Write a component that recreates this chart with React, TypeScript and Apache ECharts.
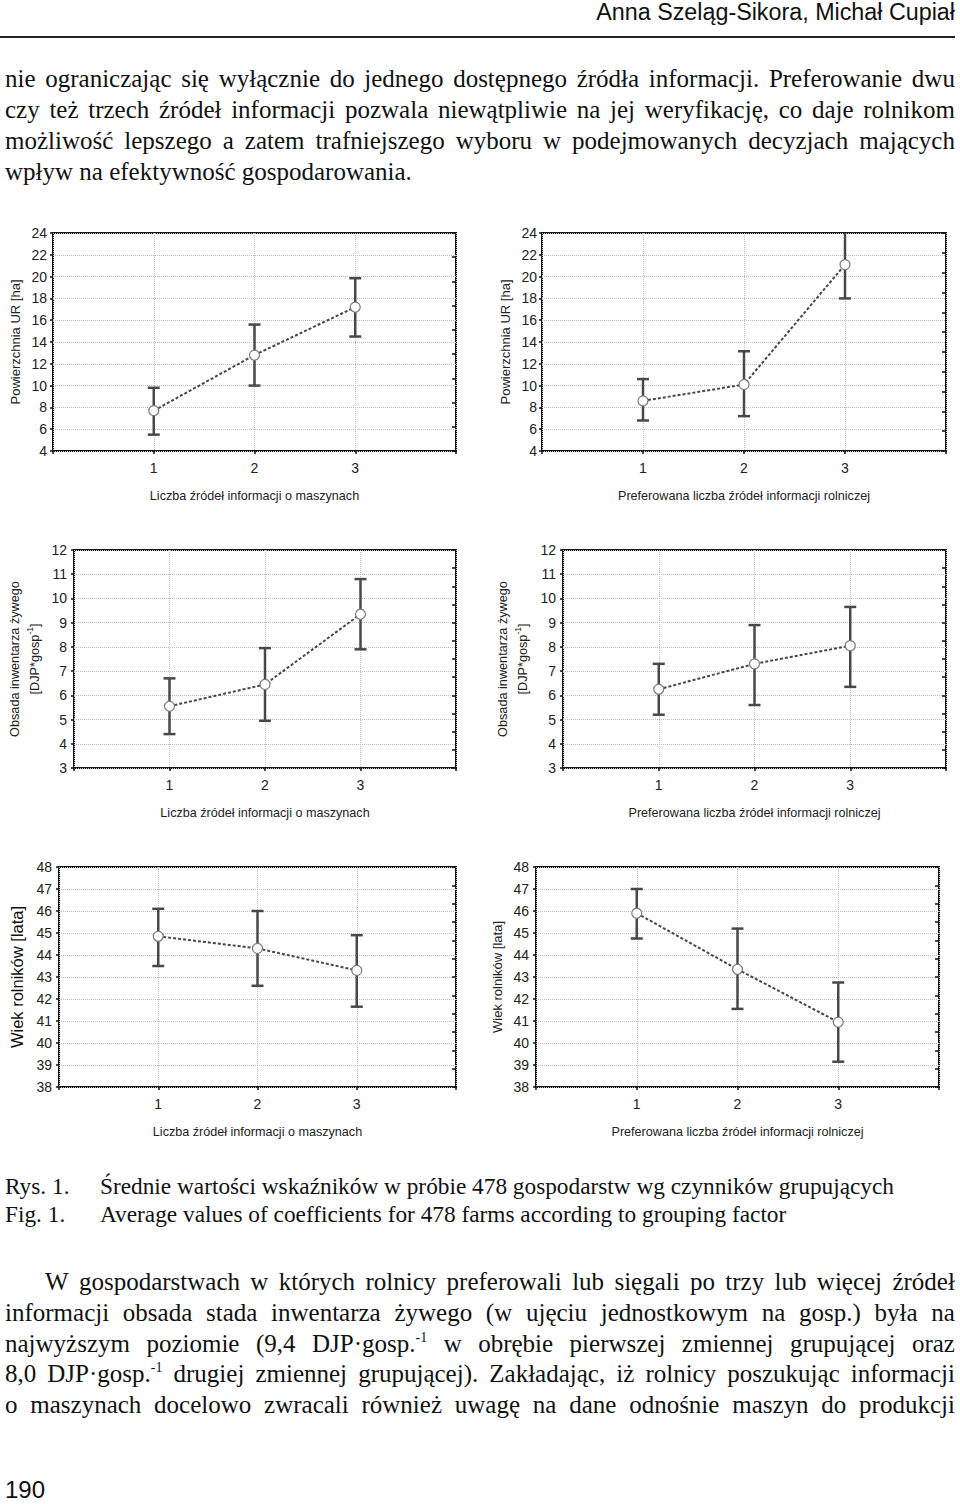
import React, { useEffect, useRef } from "react";
import * as echarts from "echarts";

// ---------- data ----------
const categories = [1, 2, 3];
const xTickLabels = ["1", "2", "3"];

const xNameMachines = "Liczba źródeł informacji o maszynach";
const xNamePreferred = "Preferowana liczba źródeł informacji rolniczej";

const yNameArea = "Powierzchnia UR [ha]";
const yNameStockLine1 = "Obsada inwentarza żywego";
const yNameStockLine2 = "[DJP*gosp";
const yNameStockSup = "-1";
const yNameAge = "Wiek rolników [lata]";

// axis ranges [min, max, interval]
const areaAxis = [4, 24, 2];
const stockAxis = [3, 12, 1];
const ageAxis = [38, 48, 1];

// Powierzchnia UR vs machine info sources
const areaMachMean = [7.7, 12.8, 17.2];
const areaMachLow = [5.5, 10.0, 14.5];
const areaMachHigh = [9.8, 15.6, 19.85];
// Powierzchnia UR vs preferred agricultural info sources
const areaPrefMean = [8.6, 10.1, 21.1];
const areaPrefLow = [6.8, 7.2, 18.0];
const areaPrefHigh = [10.6, 13.15, 24.2];
// Obsada inwentarza vs machine info sources
const stockMachMean = [5.55, 6.45, 9.35];
const stockMachLow = [4.4, 4.95, 7.9];
const stockMachHigh = [6.7, 7.95, 10.8];
// Obsada inwentarza vs preferred info sources
const stockPrefMean = [6.25, 7.3, 8.05];
const stockPrefLow = [5.2, 5.6, 6.35];
const stockPrefHigh = [7.3, 8.9, 9.65];
// Wiek rolników vs machine info sources
const ageMachMean = [44.85, 44.3, 43.3];
const ageMachLow = [43.5, 42.6, 41.65];
const ageMachHigh = [46.1, 46.0, 44.9];
// Wiek rolników vs preferred info sources
const agePrefMean = [45.9, 43.35, 40.95];
const agePrefLow = [44.75, 41.55, 39.15];
const agePrefHigh = [47.0, 45.2, 42.75];

// ---------- page text ----------
const headerText = "Anna Szeląg-Sikora, Michał Cupiał";
const para1 = [
  "nie ograniczając się wyłącznie do jednego dostępnego źródła informacji. Preferowanie dwu",
  "czy też trzech źródeł informacji pozwala niewątpliwie na jej weryfikację, co daje rolnikom",
  "możliwość lepszego a zatem trafniejszego wyboru w podejmowanych decyzjach mających",
  "wpływ na efektywność gospodarowania.",
];
const captionLabels = ["Rys. 1.", "Fig. 1."];
const captionTexts = [
  "Średnie wartości wskaźników w próbie 478 gospodarstw wg czynników grupujących",
  "Average values of coefficients for 478 farms according to grouping factor",
];
const para2 = [
  "W gospodarstwach w których rolnicy preferowali lub sięgali po trzy lub więcej źródeł",
  "informacji obsada stada inwentarza żywego (w ujęciu jednostkowym na gosp.) była na",
  "najwyższym poziomie (9,4 DJP·gosp.^-1 w obrębie pierwszej zmiennej grupującej oraz",
  "8,0 DJP·gosp.^-1 drugiej zmiennej grupującej). Zakładając, iż rolnicy poszukując informacji",
  "o maszynach docelowo zwracali również uwagę na dane odnośnie maszyn do produkcji",
];
const pageNumber = "190";

// ---------- layout / style ----------
const SANS = "'Liberation Sans', Arial, Helvetica, sans-serif";
const SERIF = "'Liberation Serif', 'Times New Roman', serif";

const layout = [
  { left: 53, top: 233, width: 403, height: 218, labelMargin: 6, yNameGap: 31.5, rightTicks: 9 },
  { left: 542, top: 233, width: 404, height: 218, labelMargin: 5, yNameGap: 30.5, rightTicks: 11 },
  { left: 74, top: 550, width: 382, height: 218, labelMargin: 7, yNameGap: 29, rightTicks: 12 },
  { left: 563, top: 550, width: 383, height: 218, labelMargin: 7, yNameGap: 30, rightTicks: 12 },
  { left: 59, top: 867, width: 397, height: 220, labelMargin: 7, yNameGap: 34, rightTicks: 12 },
  { left: 536, top: 867, width: 403, height: 220, labelMargin: 7, yNameGap: 32.5, rightTicks: 12 },
];

const stockRich = {
  a: { fontSize: 12.7, lineHeight: 20, color: "#222", fontFamily: SANS },
  s: { fontSize: 8.5, lineHeight: 20, color: "#222", fontFamily: SANS, verticalAlign: "top" as const },
};
const stockName = `{a|${yNameStockLine1}}\n{a|${yNameStockLine2}}{s|${yNameStockSup}}{a|]}`;

const panels = [
  { axis: areaAxis, mean: areaMachMean, low: areaMachLow, high: areaMachHigh, xName: xNameMachines, yName: yNameArea, yStyle: { fontSize: 13 } },
  { axis: areaAxis, mean: areaPrefMean, low: areaPrefLow, high: areaPrefHigh, xName: xNamePreferred, yName: yNameArea, yStyle: { fontSize: 13 } },
  { axis: stockAxis, mean: stockMachMean, low: stockMachLow, high: stockMachHigh, xName: xNameMachines, yName: stockName, yStyle: { rich: stockRich } },
  { axis: stockAxis, mean: stockPrefMean, low: stockPrefLow, high: stockPrefHigh, xName: xNamePreferred, yName: stockName, yStyle: { rich: stockRich } },
  { axis: ageAxis, mean: ageMachMean, low: ageMachLow, high: ageMachHigh, xName: xNameMachines, yName: yNameAge, yStyle: { fontSize: 16.5, color: "#111" } },
  { axis: ageAxis, mean: agePrefMean, low: agePrefLow, high: agePrefHigh, xName: xNamePreferred, yName: yNameAge, yStyle: { fontSize: 13 } },
];

const GRID_LINE = { type: "dotted" as const, color: "#bdbdbd", width: 1 };
const TICK_LINE = { color: "#111", width: 1.5 };

function errorBarRender(params: any, api: any) {
  const x = api.value(0);
  const lo = api.value(1);
  const hi = api.value(2);
  const pLo = api.coord([x, lo]);
  const pHi = api.coord([x, hi]);
  const cs = params.coordSys;
  const topY = cs.y;
  const clipped = pHi[1] < topY;
  const yHi = Math.max(pHi[1], topY);
  const w = 6;
  const style = { stroke: "#484848", lineWidth: 2.5, fill: "none" };
  const children: any[] = [
    { type: "line", shape: { x1: pLo[0], y1: pLo[1], x2: pLo[0], y2: yHi }, style },
    { type: "line", shape: { x1: pLo[0] - w, y1: pLo[1], x2: pLo[0] + w, y2: pLo[1] }, style },
  ];
  if (!clipped) {
    children.push({ type: "line", shape: { x1: pHi[0] - w, y1: yHi, x2: pHi[0] + w, y2: yHi }, style });
  }
  return { type: "group", children };
}

function buildOption() {
  const grid = layout.map((l) => ({
    left: l.left,
    top: l.top,
    width: l.width,
    height: l.height,
    show: true,
    borderColor: "#151515",
    borderWidth: 2,
    backgroundColor: "transparent",
    containLabel: false,
    outerBoundsMode: "none",
  }));
  const xAxis = panels.map((p, i) => ({
    type: "value",
    gridIndex: i,
    min: 0,
    max: 4,
    interval: 1,
    name: p.xName,
    nameLocation: "middle",
    nameGap: 38,
    nameTextStyle: { fontSize: 12.6, color: "#222", fontFamily: SANS },
    axisLine: { show: false, onZero: false },
    axisTick: { show: true, length: 3, lineStyle: TICK_LINE },
    axisLabel: {
      fontSize: 14,
      color: "#222",
      fontFamily: SANS,
      margin: 10,
      formatter: (v: number) => (v >= 1 && v <= 3 ? xTickLabels[categories.indexOf(v)] : ""),
    },
    splitLine: { show: true, lineStyle: GRID_LINE },
  }));
  const yAxis: any[] = [];
  panels.forEach((p, i) => {
    yAxis.push({
      type: "value",
      gridIndex: i,
      position: "left",
      min: p.axis[0],
      max: p.axis[1],
      interval: p.axis[2],
      name: p.yName,
      nameLocation: "middle",
      nameGap: layout[i].yNameGap,
      nameRotate: 90,
      nameTextStyle: { color: "#222", fontFamily: SANS, ...p.yStyle },
      axisLine: { show: false, onZero: false },
      axisTick: { show: true, length: 3, lineStyle: TICK_LINE },
      axisLabel: { fontSize: 14, color: "#222", fontFamily: SANS, margin: layout[i].labelMargin },
      splitLine: { show: true, lineStyle: GRID_LINE },
    });
    yAxis.push({
      type: "value",
      gridIndex: i,
      position: "right",
      min: 0,
      max: layout[i].rightTicks,
      interval: 1,
      axisLine: { show: false, onZero: false },
      axisTick: { show: true, inside: true, length: 4, lineStyle: TICK_LINE },
      axisLabel: { show: false },
      splitLine: { show: false },
    });
  });
  const series: any[] = [];
  panels.forEach((p, i) => {
    series.push({
      type: "custom",
      xAxisIndex: i,
      yAxisIndex: 2 * i,
      silent: true,
      z: 2,
      encode: { x: 0, y: [1, 2] },
      data: categories.map((c, j) => [c, p.low[j], p.high[j]]),
      renderItem: errorBarRender,
    });
    series.push({
      type: "line",
      xAxisIndex: i,
      yAxisIndex: 2 * i,
      z: 3,
      silent: true,
      data: categories.map((c, j) => [c, p.mean[j]]),
      symbol: "circle",
      symbolSize: 10,
      showSymbol: true,
      lineStyle: { color: "#474747", width: 2, type: [3, 2] },
      itemStyle: { color: "#ffffff", borderColor: "#7a7a7a", borderWidth: 1.2 },
    });
  });
  return { animation: false, backgroundColor: "transparent", grid, xAxis, yAxis, series };
}

// ---------- text helpers ----------
function renderWord(w: string, i: number) {
  const k = w.indexOf("^");
  if (k < 0) return <span key={i}>{w}</span>;
  return (
    <span key={i}>
      {w.slice(0, k)}
      <span style={{ fontSize: 14, position: "relative", top: -10 }}>{w.slice(k + 1)}</span>
    </span>
  );
}

function TextLine(props: {
  text: string;
  top: number;
  left?: number;
  width?: number;
  justify?: boolean;
  size?: number;
  lh?: number;
  family?: string;
  align?: "left" | "right";
}) {
  const { text, top, left = 5, width = 950, justify = false, size = 25, lh = 31, family = SERIF, align = "left" } = props;
  const words = text.split(" ").filter((w) => w.length > 0);
  const style: React.CSSProperties = {
    position: "absolute",
    top,
    left,
    width,
    height: lh,
    lineHeight: `${lh}px`,
    fontSize: size,
    fontFamily: family,
    color: "#111",
    whiteSpace: "nowrap",
    textAlign: align,
  };
  if (justify) {
    return <div style={{ ...style, display: "flex", justifyContent: "space-between" }}>{words.map(renderWord)}</div>;
  }
  const parts: React.ReactNode[] = [];
  words.forEach((w, i) => {
    if (i > 0) parts.push(" ");
    parts.push(renderWord(w, i));
  });
  return <div style={style}>{parts}</div>;
}

export default function App() {
  const ref = useRef<HTMLDivElement>(null);
  useEffect(() => {
    if (!ref.current) return;
    const chart = echarts.init(ref.current, undefined, { renderer: "svg" });
    chart.setOption(buildOption() as any);
    return () => chart.dispose();
  }, []);

  return (
    <div style={{ position: "absolute", left: 0, top: 0, width: 960, height: 1504, background: "#fff", overflow: "hidden" }}>
      <div ref={ref} style={{ position: "absolute", left: 0, top: 0, width: 960, height: 1504 }} />
      <TextLine text={headerText} top={1} left={400} width={555} size={23.3} lh={23} family={SANS} align="right" />
      <div style={{ position: "absolute", left: 0, top: 36, width: 955, height: 2, background: "#222" }} />
      {para1.map((t, i) => (
        <TextLine key={"p1" + i} text={t} top={63 + i * 31} justify={i < para1.length - 1} />
      ))}
      {captionLabels.map((t, i) => (
        <TextLine key={"cl" + i} text={t} top={1172 + i * 28} size={23.3} lh={28} />
      ))}
      {captionTexts.map((t, i) => (
        <TextLine key={"ct" + i} text={t} top={1172 + i * 28} left={100} width={850} size={23.3} lh={28} />
      ))}
      {para2.map((t, i) => (
        <TextLine
          key={"p2" + i}
          text={t}
          top={1266 + i * 30.75}
          left={i === 0 ? 45 : 5}
          width={i === 0 ? 910 : 950}
          justify
        />
      ))}
      <TextLine text={pageNumber} top={1479} size={24} lh={22} family={SANS} />
    </div>
  );
}
